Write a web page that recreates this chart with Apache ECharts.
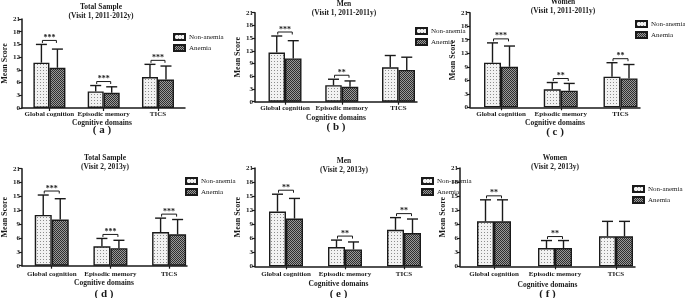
<!DOCTYPE html>
<html>
<head>
<meta charset="utf-8">
<script src="https://cdn.jsdelivr.net/npm/echarts@6/dist/echarts.min.js"></script>
<style>
  html, body { margin: 0; padding: 0; background: #fff; }
  #chart { width: 685px; height: 298px; }
</style>
</head>
<body>
<div id="chart"></div>
<script>
// data (mean score and SD per cognitive domain)
const categories = ["Global cognition", "Episodic memory", "TICS"];
const seriesNames = ["Non-anemia", "Anemia"];
const panelLetters = ["a", "b", "c", "d", "e", "f"];
const panelTitles = ["Total Sample", "Men", "Women", "Total Sample", "Men", "Women"];
const panelVisits = [
  "(Visit 1, 2011-2012y)", "(Visit 1, 2011-2011y)", "(Visit 1, 2011-2011y)",
  "(Visit 2, 2013y)", "(Visit 2, 2013y)", "(Visit 2, 2013y)"
];
const yMax = 21;
const yStep = 3;

const nonAnemiaMean = [
  [10.7, 3.9, 7.3],
  [11.6, 3.9, 8.1],
  [9.9, 4.0, 6.8],
  [11.0, 4.2, 7.3],
  [11.7, 4.1, 7.8],
  [9.6, 3.9, 6.4]
];
const nonAnemiaSD = [
  [4.3, 1.4, 3.0],
  [3.9, 1.4, 2.8],
  [4.4, 1.5, 3.1],
  [4.3, 1.7, 3.0],
  [3.7, 1.5, 2.6],
  [4.6, 1.6, 3.2]
];
const anemiaMean = [
  [9.5, 3.6, 6.7],
  [10.2, 3.5, 7.5],
  [9.0, 3.7, 6.4],
  [10.0, 3.8, 6.8],
  [10.2, 3.6, 7.1],
  [9.6, 3.9, 6.4]
];
const anemiaSD = [
  [4.4, 1.4, 3.2],
  [4.2, 1.4, 3.0],
  [4.6, 1.6, 3.1],
  [4.5, 1.7, 3.2],
  [4.3, 1.6, 3.0],
  [4.6, 1.6, 3.2]
];
const significance = [
  ["***", "***", "***"],
  ["***", "**", ""],
  ["***", "**", "**"],
  ["***", "***", "***"],
  ["**", "**", "**"],
  ["**", "**", ""]
];

// panel placement in pixels (the original is a pasted-together figure)
const layout = [
  { ax: 19, end: 185, top: 19, bot: 108, c0: 47, sp: 55.25, bw: 16, leg: [173, 33], title: [101, 3], dom: 123, let: 130, lm: 3 },
  { ax: 255, end: 417, top: 12.7, bot: 101.7, c0: 285, sp: 56.75, bw: 16.5, leg: [415, 27], title: [344, 0], dom: 118, let: 127, lm: 2.5 },
  { ax: 470, end: 640, top: 12.7, bot: 107.3, c0: 501, sp: 59.75, bw: 17, leg: [635, 20], title: [563, -2], dom: 123, let: 132, lm: 3.5 },
  { ax: 21, end: 187, top: 168.7, bot: 265.7, c0: 51, sp: 59, bw: 17, leg: [185, 177], title: [105, 154], dom: 283, let: 294, lm: 5 },
  { ax: 255, end: 422, top: 168, bot: 266.3, c0: 286, sp: 59, bw: 17, leg: [421, 177], title: [344, 157], dom: 284, let: 294, lm: 4.5 },
  { ax: 460, end: 635, top: 168, bot: 266.3, c0: 494, sp: 61, bw: 17, leg: [632, 185], title: [555, 154], dom: 285, let: 294, lm: 4.5 }
];

const FONT = "'Liberation Serif', 'Times New Roman', serif";
const INK = "#1a1a1a";

function makePattern(draw, size) {
  const c = document.createElement("canvas");
  c.width = size;
  c.height = size;
  draw(c.getContext("2d"));
  return { image: c, repeat: "repeat" };
}

const dotted = makePattern((ctx) => {
  ctx.fillStyle = "#f2f2f2";
  ctx.fillRect(0, 0, 3, 3);
  ctx.fillStyle = "#8c8c8c";
  ctx.fillRect(1, 1, 1, 1);
}, 3);

const checker = makePattern((ctx) => {
  ctx.fillStyle = "#9a9a9a";
  ctx.fillRect(0, 0, 2, 2);
  ctx.fillStyle = "#2e2e2e";
  ctx.fillRect(0, 0, 1, 1);
  ctx.fillRect(1, 1, 1, 1);
}, 2);

const chart = echarts.init(document.getElementById("chart"), null, { renderer: "canvas" });

const grids = [], xAxes = [], yAxes = [], series = [], legends = [], graphics = [];

layout.forEach((L, p) => {
  grids.push({ left: L.ax, top: L.top, width: L.end - L.ax, height: L.bot - L.top, containLabel: false });

  xAxes.push({
    type: "value",
    gridIndex: p,
    min: -(L.c0 - L.ax) / L.sp,
    max: (L.end - L.c0) / L.sp,
    splitLine: { show: false },
    axisLine: { show: true, onZero: false, lineStyle: { color: INK, width: 1.5 } },
    axisTick: { show: true, customValues: [0, 1, 2], length: 3, lineStyle: { color: INK, width: 1.2 } },
    axisLabel: {
      customValues: [0, 1, 2],
      interval: 0,
      showMinLabel: true,
      showMaxLabel: true,
      hideOverlap: false,
      formatter: (v) => categories[Math.round(v)],
      margin: L.lm,
      fontFamily: FONT, fontWeight: "bold", fontSize: 7, color: INK
    }
  });

  yAxes.push({
    type: "value",
    gridIndex: p,
    min: 0,
    max: yMax,
    interval: yStep,
    name: "Mean Score",
    nameLocation: "middle",
    nameGap: 11,
    nameTextStyle: { fontFamily: FONT, fontWeight: "bold", fontSize: 8, color: INK },
    splitLine: { show: false },
    axisLine: { show: true, onZero: false, lineStyle: { color: INK, width: 1.5 } },
    axisTick: { show: true, length: 3, lineStyle: { color: INK, width: 1.2 } },
    axisLabel: { margin: 2, fontFamily: FONT, fontWeight: "bold", fontSize: 7, color: INK }
  });

  const means = [nonAnemiaMean[p], anemiaMean[p]];
  [dotted, checker].forEach((fill, k) => {
    series.push({
      type: "bar",
      name: seriesNames[k],
      xAxisIndex: p,
      yAxisIndex: p,
      barWidth: L.bw,
      barGap: "0%",
      data: means[k].map((v, i) => [i, v]),
      itemStyle: { color: fill, borderColor: INK, borderWidth: 1.4 },
      emphasis: { disabled: true },
      z: 2
    });
  });

  // error bars (upper half only) and significance brackets
  series.push({
    type: "custom",
    xAxisIndex: p,
    yAxisIndex: p,
    z: 3,
    silent: true,
    data: categories.map((_, i) => [i, nonAnemiaMean[p][i], nonAnemiaSD[p][i], anemiaMean[p][i], anemiaSD[p][i]]),
    renderItem: (params, api) => {
      const i = api.value(0);
      const cx = api.coord([i, 0])[0];
      const xs = [cx - L.bw / 2, cx + L.bw / 2];
      const ms = [api.value(1), api.value(3)];
      const tops = [api.value(1) + api.value(2), api.value(3) + api.value(4)];
      const children = [];
      const topYs = [];
      for (let k = 0; k < 2; k++) {
        const y0 = api.coord([i, ms[k]])[1];
        const y1 = api.coord([i, tops[k]])[1];
        topYs.push(y1);
        children.push({
          type: "line",
          shape: { x1: xs[k], y1: y0, x2: xs[k], y2: y1 },
          style: { stroke: INK, lineWidth: 1.4 }
        });
        children.push({
          type: "line",
          shape: { x1: xs[k] - 5.5, y1: y1, x2: xs[k] + 5.5, y2: y1 },
          style: { stroke: INK, lineWidth: 1.4 }
        });
      }
      const stars = significance[p][i];
      if (stars) {
        const yb = Math.min(topYs[0], topYs[1]) - 4;
        children.push({
          type: "polyline",
          shape: { points: [[xs[0] + 1, yb + 2.5], [xs[0] + 1, yb], [xs[1] - 1, yb], [xs[1] - 1, yb + 2.5]] },
          style: { stroke: INK, lineWidth: 1, fill: null }
        });
        children.push({
          type: "text",
          style: {
            text: stars, x: cx, y: yb + 1.5,
            textAlign: "center", textVerticalAlign: "bottom",
            font: "bold 8px " + FONT, fill: INK
          }
        });
      }
      return { type: "group", children: children };
    }
  });

  legends.push({
    left: L.leg[0],
    top: L.leg[1],
    orient: "vertical",
    padding: 0,
    icon: "rect",
    itemWidth: 11,
    itemHeight: 6,
    itemGap: 3,
    selectedMode: false,
    data: seriesNames,
    textStyle: { fontFamily: FONT, fontSize: 7, color: INK, padding: [0, 0, 0, -1] }
  });

  graphics.push({
    type: "text", x: L.title[0], y: L.title[1],
    style: {
      text: panelTitles[p] + "\n" + panelVisits[p],
      textAlign: "center", font: "bold 7.5px " + FONT, lineHeight: 8.5, fill: INK
    }
  });
  graphics.push({
    type: "text", x: (L.ax + L.end) / 2, y: L.dom,
    style: { text: "Cognitive domains", textAlign: "center", textVerticalAlign: "middle", font: "bold 7.5px " + FONT, fill: INK }
  });
  graphics.push({
    type: "text", x: (L.ax + L.end) / 2, y: L.let,
    style: { text: "( " + panelLetters[p] + " )", textAlign: "center", textVerticalAlign: "middle", font: "bold 11px " + FONT, fill: INK }
  });
});

chart.setOption({
  animation: false,
  backgroundColor: "#fff",
  grid: grids,
  xAxis: xAxes,
  yAxis: yAxes,
  legend: legends,
  series: series,
  graphic: graphics
});
</script>
</body>
</html>
